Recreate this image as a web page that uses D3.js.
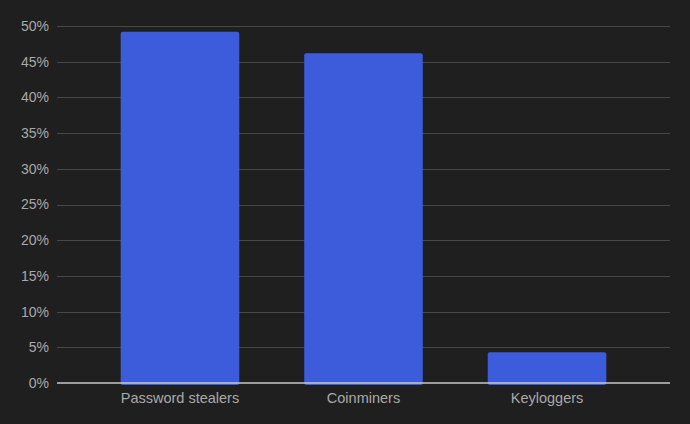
<!DOCTYPE html>
<html>
<head>
<meta charset="utf-8">
<script src="https://cdn.jsdelivr.net/npm/d3@7"></script>
<style>
  html, body { margin: 0; padding: 0; background: #1f1f1f; }
  svg { display: block; }
  .tick-label { font-family: "Liberation Sans", Arial, sans-serif; font-size: 14px; fill: #a9a9a9; }
  .cat-label { font-size: 14.5px; }
</style>
</head>
<body>
<svg id="chart" width="690" height="424"></svg>
<script>
  // chart data
  const categories = ["Password stealers", "Coinminers", "Keyloggers"];
  const shares = [49.2, 46.2, 4.3];
  const yTicks = [0, 5, 10, 15, 20, 25, 30, 35, 40, 45, 50];

  const W = 690, H = 424;
  const margin = { top: 26, right: 20, bottom: 41, left: 57 };
  const svg = d3.select('#chart');

  svg.append('rect').attr('width', W).attr('height', H).attr('fill', '#1f1f1f');

  const x = d3.scaleBand().domain(categories)
    .range([margin.left, W - margin.right])
    .paddingInner(0.354).paddingOuter(0.347);
  const y = d3.scaleLinear().domain([0, 50]).range([H - margin.bottom, margin.top]);

  // gridlines
  svg.append('g').selectAll('line').data(yTicks.filter(t => t > 0)).join('line')
    .attr('x1', margin.left).attr('x2', W - margin.right)
    .attr('y1', d => Math.round(y(d)) + 0.5).attr('y2', d => Math.round(y(d)) + 0.5)
    .attr('stroke', '#474747').attr('stroke-width', 1);

  // y labels
  svg.append('g').selectAll('text').data(yTicks).join('text')
    .attr('class', 'tick-label')
    .attr('x', 49).attr('y', d => y(d)).attr('dy', '0.35em')
    .attr('text-anchor', 'end')
    .text(d => d + '%');

  // bars
  svg.append('g').selectAll('rect').data(shares).join('rect')
    .attr('x', (d, i) => x(categories[i]))
    .attr('y', d => y(d))
    .attr('width', x.bandwidth())
    .attr('height', d => y(0) - y(d) + 2)
    .attr('rx', 2)
    .attr('fill', '#3c5cdb');

  // baseline
  svg.append('line')
    .attr('x1', margin.left).attr('x2', W - margin.right)
    .attr('y1', y(0)).attr('y2', y(0))
    .attr('stroke', '#c8c8c8').attr('stroke-width', 1.5);

  // x labels
  svg.append('g').selectAll('text').data(categories).join('text')
    .attr('class', 'tick-label cat-label')
    .attr('x', d => x(d) + x.bandwidth() / 2)
    .attr('y', y(0) + 20)
    .attr('text-anchor', 'middle')
    .text(d => d);
</script>
</body>
</html>
